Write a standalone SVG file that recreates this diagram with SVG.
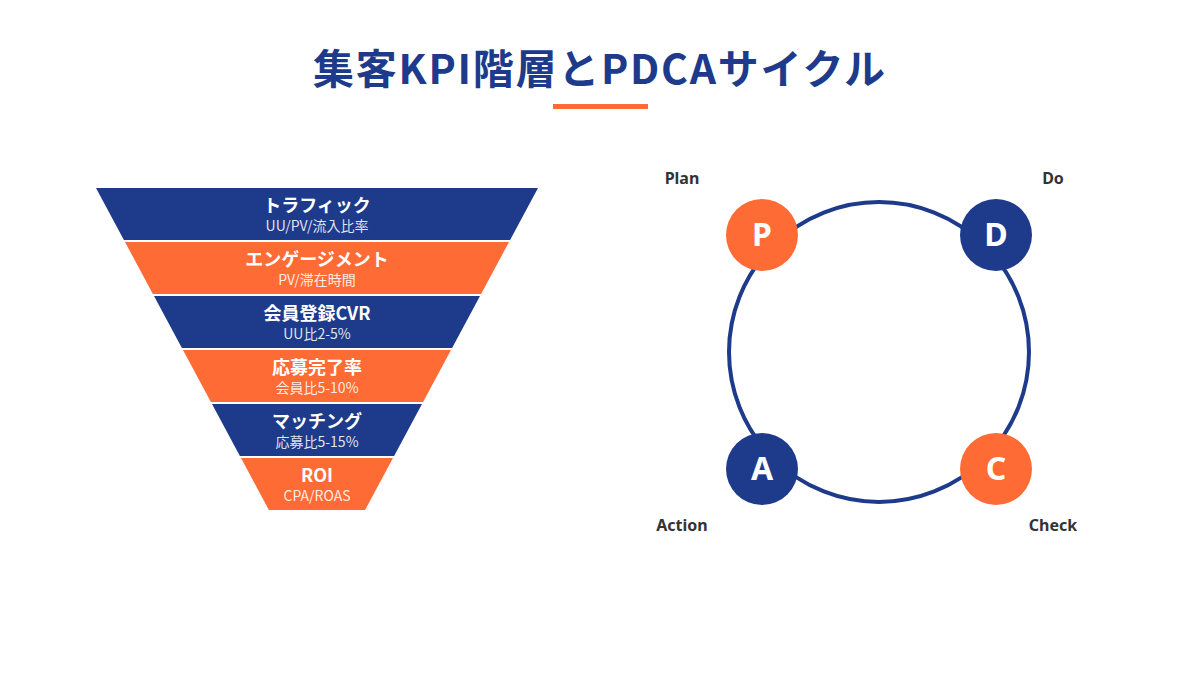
<svg xmlns="http://www.w3.org/2000/svg" width="1200" height="675" viewBox="0 0 1200 675">
<style>
.title{font-family:"Noto Sans CJK JP","Noto Sans",sans-serif;font-weight:700;font-size:41px;fill:#1E3A8A}
.lt{font-family:"Noto Sans CJK JP","Noto Sans",sans-serif;font-weight:700;font-size:18px;fill:#fff}
.ls{font-family:"Noto Sans CJK JP","Noto Sans",sans-serif;font-size:14px;fill:#fff;fill-opacity:0.88}
.navy{fill:#1E3A8A}
.orange{fill:#FF6B35}
.letter{font-family:"Noto Sans","Liberation Sans",sans-serif;font-weight:700;font-size:32px;fill:#fff}
.lab{font-family:"Noto Sans","Liberation Sans",sans-serif;font-weight:700;font-size:16px;fill:#333}
</style>
<rect width="1200" height="675" fill="#fff"/>
<g id="title">
<text class="title" x="313" y="84" textLength="572" lengthAdjust="spacing">集客KPI階層とPDCAサイクル</text>
<rect x="553" y="104" width="95" height="5" class="orange"/>
</g>
<g id="funnel">
<g id="layer1"><polygon class="navy" points="96,188 538,188 510.1,240 123.9,240"/><text class="lt" x="317" y="212" text-anchor="middle">トラフィック</text><text class="ls" x="317" y="231" text-anchor="middle">UU/PV/流入比率</text></g>
<g id="layer2"><polygon class="orange" points="125,242 509,242 481.1,294 152.9,294"/><text class="lt" x="317" y="266" text-anchor="middle">エンゲージメント</text><text class="ls" x="317" y="285" text-anchor="middle">PV/滞在時間</text></g>
<g id="layer3"><polygon class="navy" points="154,296 480,296 452.1,348 181.9,348"/><text class="lt" x="317" y="320" text-anchor="middle">会員登録CVR</text><text class="ls" x="317" y="339" text-anchor="middle">UU比2-5%</text></g>
<g id="layer4"><polygon class="orange" points="183,350 451,350 423.1,402 210.9,402"/><text class="lt" x="317" y="374" text-anchor="middle">応募完了率</text><text class="ls" x="317" y="393" text-anchor="middle">会員比5-10%</text></g>
<g id="layer5"><polygon class="navy" points="212,404 422,404 394.1,456 239.9,456"/><text class="lt" x="317" y="428" text-anchor="middle">マッチング</text><text class="ls" x="317" y="447" text-anchor="middle">応募比5-15%</text></g>
<g id="layer6"><polygon class="orange" points="241,458 393,458 365.1,510 268.9,510"/><text class="lt" x="317" y="482" text-anchor="middle">ROI</text><text class="ls" x="317" y="501" text-anchor="middle">CPA/ROAS</text></g>
</g>
<g id="connectors">
<circle cx="879" cy="352" r="150" fill="none" stroke="#1E3A8A" stroke-width="4"/>
</g>
<g id="node-P"><circle cx="762" cy="235" r="36" class="orange"/><text class="letter" x="762" y="246" text-anchor="middle">P</text><text class="lab" x="682" y="184" text-anchor="middle">Plan</text></g>
<g id="node-D"><circle cx="996" cy="235" r="36" class="navy"/><text class="letter" x="996" y="246" text-anchor="middle">D</text><text class="lab" x="1053" y="184" text-anchor="middle">Do</text></g>
<g id="node-A"><circle cx="762" cy="469" r="36" class="navy"/><text class="letter" x="762" y="480" text-anchor="middle">A</text><text class="lab" x="682" y="531" text-anchor="middle">Action</text></g>
<g id="node-C"><circle cx="996" cy="469" r="36" class="orange"/><text class="letter" x="996" y="480" text-anchor="middle">C</text><text class="lab" x="1053" y="531" text-anchor="middle">Check</text></g>
</svg>
